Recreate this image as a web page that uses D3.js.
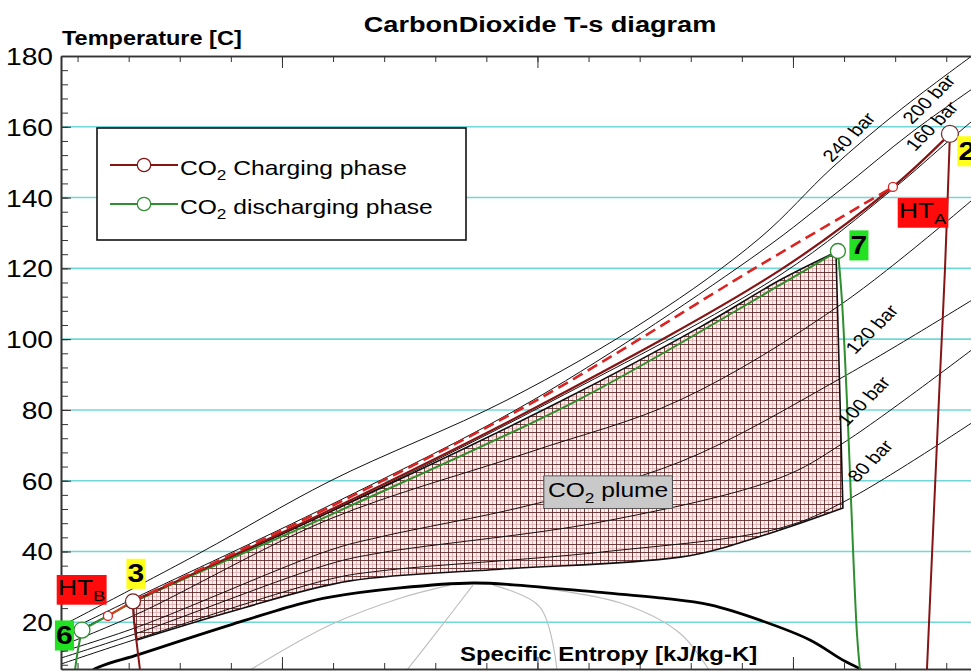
<!DOCTYPE html>
<html>
<head>
<meta charset="utf-8">
<script src="https://cdn.jsdelivr.net/npm/d3@7"></script>
<style>
  body { margin: 0; background: #fff; }
  svg { display: block; }
  text { font-family: "Liberation Sans", Arial, sans-serif; }
</style>
</head>
<body>
<svg id="chart" width="971" height="672"></svg>
<script>
// ---- CO2 property data: [specific entropy kJ/kg-K, temperature C] ----
const saturationDome = [[1.058,4.0],[1.065,6.5],[1.111,11.0],[1.2021,19.5],[1.2676,25.2],[1.2970,27.1],[1.3655,29.7],
  [1.4369,31.1],[1.4799,30.5],[1.5582,28.5],[1.6228,26.8],[1.6688,24.9],
  [1.7177,20.6],[1.7666,15.0],[1.7989,9.3],[1.8156,6.8],[1.82,5.5]];

const qualityLine1 = [[1.4144,30.5],[1.3655,26.8],[1.2970,19.2],[1.2187,6.5]];
const qualityLine2 = [[1.4369,30.5],[1.4046,18.4],[1.3723,6.5]];
const qualityLine3 = [[1.4565,30.5],[1.5024,24.3],[1.5191,6.5]];
const qualityLine4 = [[1.4799,30.5],[1.5807,25.5],[1.6394,16.9],[1.6678,6.5]];

const isobar240 = [[1.0338,18.9],[1.1698,39.6],[1.2970,59.9],[1.4702,82.8],[1.6101,106.0],[1.7177,128.6],[1.7882,148.4],[1.8547,164.7],[1.9330,181.7]];
const isobar200 = [[1.0338,16.7],[1.1042,26.6],[1.2970,53.1],[1.4995,83.4],[1.7177,124.6],[1.7960,142.1],[1.8664,158.5],[1.9379,173.2]];
const isobar160 = [[1.0338,15.0],[1.1042,25.5],[1.2970,51.2],[1.5122,82.2],[1.7373,118.1],[1.8478,142.4],[1.9036,156.3],[1.9379,164.7]];
const isobar140 = [[1.0338,13.3],[1.1081,22.3],[1.2970,49.2],[1.4927,68.1],[1.6394,82.8],[1.7989,110.2],[1.9379,142.4]];
const isobar120 = [[1.0338,11.6],[1.1081,18.6],[1.2970,40.4],[1.3459,44.1],[1.4927,53.1],[1.6394,65.3],[1.7989,89.3],[1.9379,113.3]];
const isobar100 = [[1.0338,9.9],[1.1081,16.9],[1.2970,36.5],[1.3459,39.6],[1.5612,48.3],[1.7373,60.8],[1.7989,70.6],[1.9379,99.8]];
const isobar80  = [[1.0338,8.2],[1.1081,15.3],[1.2970,32.2],[1.3459,34.5],[1.5612,39.8],[1.7373,46.6],[1.8028,54.5],[1.9379,78.8]];
const isobarNames = ["240 bar","200 bar","160 bar","120 bar","100 bar","80 bar"];

// CO2 plume region: upper edge (left to right), lower edge (right to left)
const plumeUpper = [[1.1042,26.0],[1.2970,51.2],[1.5250,82.8],[1.6590,103.4],[1.7373,116.7],[1.7921,124.6]];
const plumeLower = [[1.7989,52.3],[1.7373,46.1],[1.6394,38.4],[1.4633,35.0],[1.3165,31.7],[1.2021,23.2],[1.1081,15.0]];
const plumeLeft  = [[1.1081,15.0],[1.1052,20.6],[1.1042,26.0]];

// Charging phase
const chargingMain   = [[1.1042,26.0],[1.2970,51.7],[1.5122,82.8],[1.7373,119.5],[1.8478,143.0],[1.9036,158.0]];
const chargingHTA    = [[1.1042,26.0],[1.2970,52.6],[1.4995,82.8],[1.7177,120.9],[1.8478,143.0]];
const chargingInlet  = [[1.0797,21.8],[1.1042,26.0]];
const chargingDrop3  = [[1.1042,25.7],[1.1052,20.6],[1.1081,13.6],[1.1111,6.5]];
const chargingDrop2  = [[1.9036,158.0],[1.8987,119.5],[1.8938,89.3],[1.8811,6.5]];

// Discharging phase
const dischargingMain  = [[1.0543,17.8],[1.0797,21.8],[1.1042,25.7],[1.2970,50.3],[1.5396,82.8],[1.7373,115.3],[1.7940,124.9]];
const dischargingDrop7 = [[1.7940,124.9],[1.7979,111.1],[1.8028,82.8],[1.8126,16.9],[1.8156,6.5]];
const dischargingDrop6 = [[1.0543,17.8],[1.0504,12.2],[1.0475,6.5]];

// State points
const state6  = [1.0543,17.8];
const stateB  = [1.0797,21.8];
const state3  = [1.1042,25.9];
const state7  = [1.7940,124.9];
const stateA  = [1.8478,143.0];
const state2  = [1.9036,158.0];

const yTickLabels = [20,40,60,80,100,120,140,160,180];

// ---- layout ----
const X0 = 61, X1 = 990, Y0 = 56, Y1 = 669;
const SX = 1.2; // horizontal text stretch
const x = d3.scaleLinear().domain([1.0338, 1.9428]).range([X0, X1]);
const y = d3.scaleLinear().domain([6.8, 180]).range([Y1, Y0]);

const C_CHG = "#861414", C_DASH = "#dd2222", C_DIS = "#2e8f2e", C_GRID = "#70d8d8";

const svg = d3.select("#chart");
const defs = svg.append("defs");
defs.append("clipPath").attr("id", "plotClip")
  .append("rect").attr("x", X0).attr("y", Y0).attr("width", X1 - X0).attr("height", Y1 - Y0);
const pat = defs.append("pattern").attr("id", "hatch").attr("patternUnits", "userSpaceOnUse")
  .attr("width", 8).attr("height", 8);
pat.append("rect").attr("width", 8).attr("height", 8).attr("fill", "#fbefef");
pat.append("path").attr("d", "M4.5,0V8M0,4.5H8").attr("stroke", "#e4b2b2").attr("stroke-width", 0.9);
pat.append("path").attr("d", "M0.5,0V8M0,0.5H8").attr("stroke", "#5a2222").attr("stroke-width", 0.85);

const line = d3.line().x(d => x(d[0])).y(d => y(d[1])).curve(d3.curveCatmullRom.alpha(0.5));
const smoothX = d3.line().x(d => x(d[0])).y(d => y(d[1])).curve(d3.curveMonotoneX);
const straight = d3.line().x(d => x(d[0])).y(d => y(d[1]));

// text helper with stretched glyphs and optional subscripts / box
function addText(parent, px, py, parts, o) {
  const g = parent.append("g")
    .attr("transform", `translate(${px},${py}) scale(${o.sx || SX},1)` + (o.rotate ? ` rotate(${o.rotate})` : ""));
  const t = g.append("text").attr("text-anchor", o.anchor || "start")
    .attr("font-size", o.size).attr("font-weight", o.weight || "normal").attr("fill", o.fill || "#000");
  let shifted = false;
  parts.forEach(p => {
    if (typeof p === "string") {
      const ts = t.append("tspan").text(p);
      if (shifted) { ts.attr("dy", -0.28 * o.size); shifted = false; }
    } else {
      t.append("tspan").attr("font-size", o.size * 0.7).attr("dy", 0.28 * o.size).text(p.sub);
      shifted = true;
    }
  });
  if (o.box) {
    const bb = t.node().getBBox();
    const px2 = o.padX || 1, py2 = o.padY || 0;
    g.insert("rect", "text").attr("x", bb.x - px2).attr("y", bb.y - py2)
      .attr("width", bb.width + 2 * px2).attr("height", bb.height + 2 * py2)
      .attr("fill", o.box).attr("stroke", o.boxStroke || "none").attr("stroke-width", o.boxStroke ? 1 / SX : 0);
  }
  return g;
}

// ---- grid ----
svg.append("g").selectAll("line").data(yTickLabels.filter(v => v < 180)).join("line")
  .attr("x1", X0).attr("x2", X1).attr("y1", d => y(d)).attr("y2", d => y(d))
  .attr("stroke", C_GRID).attr("stroke-width", 1.6);

const plot = svg.append("g").attr("clip-path", "url(#plotClip)");

// ---- plume ----
const plumePath = line(plumeUpper) + "L" + smoothX(plumeLower).slice(1) + "L" + straight(plumeLeft).slice(1) + "Z";
plot.append("path").attr("d", plumePath).attr("fill", "url(#hatch)").attr("stroke", "none");

// ---- isobars ----
const isobars = [isobar240, isobar200, isobar160, isobar140, isobar120, isobar100, isobar80];
plot.append("g").selectAll("path").data(isobars).join("path")
  .attr("d", line).attr("fill", "none").attr("stroke", "#111").attr("stroke-width", 1);

// ---- saturation dome and quality lines ----
plot.append("g").selectAll("path").data([qualityLine1, qualityLine2, qualityLine3, qualityLine4]).join("path")
  .attr("d", line).attr("fill", "none").attr("stroke", "#bdbdbd").attr("stroke-width", 1.1);
plot.append("path").attr("d", line(saturationDome)).attr("fill", "none").attr("stroke", "#000").attr("stroke-width", 2.8);

// plume outline
plot.append("path").attr("d", plumePath).attr("fill", "none").attr("stroke", "#111").attr("stroke-width", 1.6);

// ---- process lines ----
plot.append("path").attr("d", line(dischargingMain)).attr("fill", "none").attr("stroke", C_DIS).attr("stroke-width", 2);
plot.append("path").attr("d", line(dischargingDrop7)).attr("fill", "none").attr("stroke", C_DIS).attr("stroke-width", 2);
plot.append("path").attr("d", line(dischargingDrop6)).attr("fill", "none").attr("stroke", C_DIS).attr("stroke-width", 2);
plot.append("path").attr("d", line(chargingMain)).attr("fill", "none").attr("stroke", C_CHG).attr("stroke-width", 2.2);
plot.append("path").attr("d", line(chargingHTA)).attr("fill", "none").attr("stroke", C_DASH)
  .attr("stroke-width", 2.6).attr("stroke-dasharray", "11,6");
plot.append("path").attr("d", straight(chargingInlet)).attr("fill", "none").attr("stroke", "#d8401c").attr("stroke-width", 2);
plot.append("path").attr("d", line(chargingDrop3)).attr("fill", "none").attr("stroke", C_CHG).attr("stroke-width", 2);
plot.append("path").attr("d", line(chargingDrop2)).attr("fill", "none").attr("stroke", C_CHG).attr("stroke-width", 2);

// state markers
const markers = [
  { p: state6, r: 8, c: C_DIS }, { p: stateB, r: 4.5, c: C_DASH }, { p: state3, r: 7.5, c: "#7a2020" },
  { p: state7, r: 7.5, c: C_DIS }, { p: stateA, r: 4.5, c: C_DASH }, { p: state2, r: 8.5, c: "#7a3030" }
];
svg.append("g").selectAll("circle").data(markers).join("circle")
  .attr("cx", d => x(d.p[0])).attr("cy", d => y(d.p[1])).attr("r", d => d.r)
  .attr("fill", "#fff").attr("stroke", d => d.c).attr("stroke-width", 1.3);

// ---- axes ----
const axG = svg.append("g");
const yMinor = d3.axisLeft(y).tickValues(d3.range(8, 181, 4)).tickSize(-7).tickSizeOuter(0).tickFormat("");
axG.append("g").attr("transform", `translate(${X0},0)`).call(yMinor);
const yMajor = d3.axisLeft(y).tickValues(yTickLabels).tickSize(-10).tickSizeOuter(0).tickPadding(0).tickFormat(d3.format("d"));
const yAx = axG.append("g").attr("transform", `translate(${X0},0)`).call(yMajor);
yAx.selectAll("text").attr("font-size", 23.5).attr("fill", "#000")
  .attr("font-family", "Liberation Sans, Arial, sans-serif")
  .attr("x", -8 / SX).attr("dy", "0.36em").attr("transform", `scale(${SX},1)`);

const xMinorTicks = d3.range(21, 39).map(k => k * 0.05);
const xMajorTicks = [1.25, 1.5, 1.75];
[["top", Y0], ["bottom", Y1]].forEach(([side, yy]) => {
  const mk = side === "top" ? d3.axisTop : d3.axisBottom;
  axG.append("g").attr("transform", `translate(0,${yy})`)
    .call(mk(x).tickValues(xMinorTicks).tickSize(-6).tickSizeOuter(0).tickFormat(""));
  axG.append("g").attr("transform", `translate(0,${yy})`)
    .call(mk(x).tickValues(xMajorTicks).tickSize(-12).tickSizeOuter(0).tickFormat(""));
});
axG.selectAll(".domain").attr("stroke", "#333").attr("stroke-width", 1.6);
axG.selectAll(".tick line").attr("stroke", "#333").attr("stroke-width", 1);

// ---- titles ----
addText(svg, 540, 32, ["CarbonDioxide T-s diagram"], { size: 22.6, weight: "bold", anchor: "middle" });
addText(svg, 62, 45, ["Temperature [C]"], { size: 19.6, weight: "bold" });
addText(svg, 460, 661, ["Specific Entropy [kJ/kg-K]"], { size: 19.9, weight: "bold" });

// ---- isobar labels ----
const isobarLabelSpots = [[1.7882,149.8],[1.8664,160.5],[1.8694,152.9],[1.8107,95.5],[1.8028,75.2],[1.8126,59.3]];
isobarNames.forEach((n, i) => {
  const p = isobarLabelSpots[i];
  addText(svg, x(p[0]), y(p[1]), [n], { size: 17, rotate: -50 });
});

// ---- plume label ----
addText(svg, 548, 497, ["CO", { sub: "2" }, " plume"], { size: 20.5, box: "#c9c9c9", boxStroke: "#444", padX: 3.5, padY: 3 });

// ---- state labels ----
const sp = p => [x(p[0]), y(p[1])];
let q;
q = sp(state6);  addText(svg, q[0] - 17.5, q[1] + 14, ["6"], { size: 25, weight: "bold", anchor: "middle", box: "#22e022", padX: 1, padY: 1 });
q = sp(stateB);  addText(svg, q[0] - 50, q[1] - 21, ["HT", { sub: "B" }], { size: 22, box: "#ff0b0b", padX: 1, padY: 0 });
q = sp(state3);  addText(svg, q[0] + 3, q[1] - 19, ["3"], { size: 25, weight: "bold", anchor: "middle", box: "#ffff1a", padX: 1, padY: 1 });
q = sp(state7);  addText(svg, q[0] + 21, q[1] + 3, ["7"], { size: 25, weight: "bold", anchor: "middle", box: "#22e022", padX: 1, padY: 1 });
q = sp(stateA);  addText(svg, q[0] + 6, q[1] + 31, ["HT", { sub: "A" }], { size: 22, box: "#ff0b0b", padX: 1, padY: 0 });
q = sp(state2);  addText(svg, q[0] + 17, q[1] + 26, ["2"], { size: 25, weight: "bold", anchor: "middle", box: "#ffff1a", padX: 1, padY: 1 });

// ---- legend ----
const lg = svg.append("g");
lg.append("rect").attr("x", 97).attr("y", 128).attr("width", 369).attr("height", 112)
  .attr("fill", "#fff").attr("stroke", "#111").attr("stroke-width", 1.6);
[{ c: C_CHG, yy: 165, parts: ["CO", { sub: "2" }, " Charging phase"] },
 { c: C_DIS, yy: 204, parts: ["CO", { sub: "2" }, " discharging phase"] }].forEach(e => {
  lg.append("line").attr("x1", 110).attr("x2", 178).attr("y1", e.yy).attr("y2", e.yy).attr("stroke", e.c).attr("stroke-width", 2);
  lg.append("circle").attr("cx", 144).attr("cy", e.yy).attr("r", 6.7).attr("fill", "#fff").attr("stroke", e.c).attr("stroke-width", 1.2);
  addText(lg, 180, e.yy + 9.5, e.parts, { size: 20.5 });
});
</script>
</body>
</html>
